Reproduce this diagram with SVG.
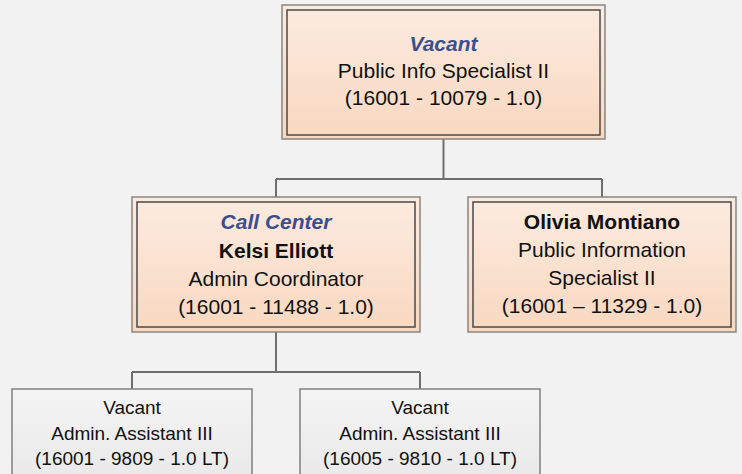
<svg xmlns="http://www.w3.org/2000/svg" width="742" height="474" viewBox="0 0 742 474">
<defs>
<linearGradient id="peach" x1="0" y1="0" x2="0" y2="1">
<stop offset="0" stop-color="#FCEBE0"/>
<stop offset="1" stop-color="#F8D8C0"/>
</linearGradient>
<linearGradient id="grey" x1="0" y1="0" x2="0" y2="1">
<stop offset="0" stop-color="#F4F4F4"/>
<stop offset="1" stop-color="#E8E8E8"/>
</linearGradient>
<style>
.outer{fill:url(#peach);stroke:#8A8580;stroke-width:1.5}
.inner{fill:none;stroke:#4A4A4A;stroke-width:1.5}
.gbox{fill:url(#grey);stroke:#808080;stroke-width:1.5}
.conn{fill:none;stroke:#6E6E6E;stroke-width:2}
text{font-family:"Liberation Sans",Arial,sans-serif;text-anchor:middle;fill:#111}
.t{font-size:21px}
.s{font-size:19px}
.b{font-weight:bold}
.i{font-style:italic;font-weight:bold;fill:#3C4E8D}
</style>
</defs>
<rect width="742" height="474" fill="#F2F2F2"/>
<g id="connectors">
<path class="conn" d="M443.5 139 V179 M276 179 H602 M276 179 V197 M602 179 V197"/>
<path class="conn" d="M276 332 V372 M132 372 H420 M132 372 V389 M420 372 V389"/>
</g>
<g id="node-top">
<rect class="outer" x="282" y="5" width="323" height="134"/>
<rect class="inner" x="287" y="10" width="313" height="125"/>
<text class="t i" x="443.5" y="51">Vacant</text>
<text class="t" x="443.5" y="78">Public Info Specialist II</text>
<text class="t" x="443.5" y="105">(16001 - 10079 - 1.0)</text>
</g>
<g id="node-kelsi">
<rect class="outer" x="132" y="197" width="288" height="135"/>
<rect class="inner" x="137" y="202" width="278" height="125"/>
<text class="t i" x="276" y="229">Call Center</text>
<text class="t b" x="276" y="258">Kelsi Elliott</text>
<text class="t" x="276" y="286">Admin Coordinator</text>
<text class="t" x="276" y="314">(16001 - 11488 - 1.0)</text>
</g>
<g id="node-olivia">
<rect class="outer" x="468" y="197" width="268" height="135"/>
<rect class="inner" x="473" y="202" width="258" height="125"/>
<text class="t b" x="602" y="229">Olivia Montiano</text>
<text class="t" x="602" y="257">Public Information</text>
<text class="t" x="602" y="285">Specialist II</text>
<text class="t" x="602" y="313">(16001 – 11329 - 1.0)</text>
</g>
<g id="node-vacant1">
<rect class="gbox" x="12" y="389" width="240" height="100"/>
<text class="s" x="132" y="414">Vacant</text>
<text class="s" x="132" y="440">Admin. Assistant III</text>
<text class="s" x="132" y="465">(16001 - 9809 - 1.0 LT)</text>
</g>
<g id="node-vacant2">
<rect class="gbox" x="300" y="389" width="240" height="100"/>
<text class="s" x="420" y="414">Vacant</text>
<text class="s" x="420" y="440">Admin. Assistant III</text>
<text class="s" x="420" y="465">(16005 - 9810 - 1.0 LT)</text>
</g>
</svg>
